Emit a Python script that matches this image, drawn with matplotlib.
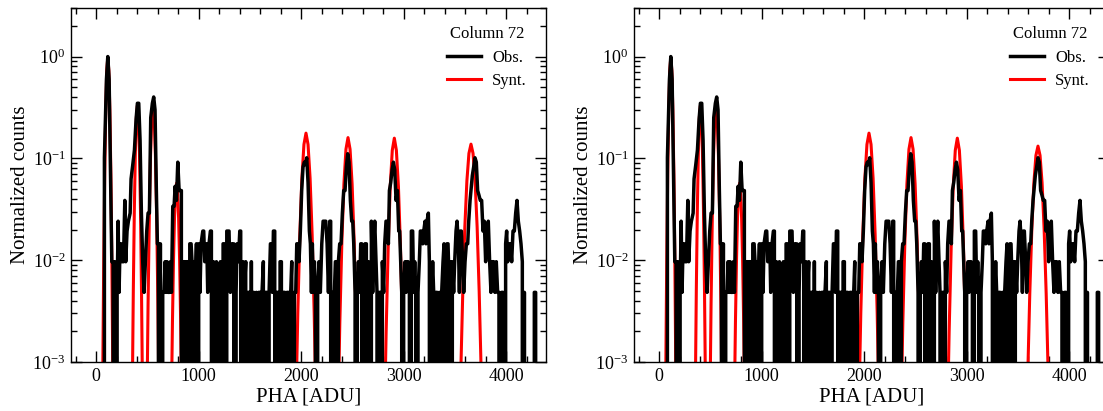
import numpy as np
import matplotlib
matplotlib.use('Agg')
import matplotlib.pyplot as plt
from matplotlib.ticker import MultipleLocator, LogLocator

plt.rcParams['font.family'] = 'Liberation Serif'
plt.rcParams['mathtext.fontset'] = 'custom'
plt.rcParams['mathtext.rm'] = 'Liberation Serif'
plt.rcParams['mathtext.it'] = 'Liberation Serif:italic'

# Observed spectrum (PHA in ADU, counts per bin); normalised by the peak count
obs_pha = [60, 81, 101, 114, 127, 140, 153, 166, 172, 182, 192, 205, 215, 224, 234, 244, 254, 267, 280, 289,
           302, 315, 332, 341, 358, 374, 390, 403, 416, 429, 442, 455, 468, 481, 494, 507, 520, 533, 549, 562,
           575, 588, 598, 608, 614, 627, 637, 650, 663, 673, 683, 693, 702, 715, 725, 735, 748, 761, 771, 784,
           797, 810, 823, 832, 842, 855, 865, 875, 884, 894, 904, 914, 927, 936, 946, 959, 969, 979, 992, 1001,
           1014, 1024, 1041, 1050, 1060, 1070, 1080, 1089, 1102, 1115, 1125, 1135, 1145, 1154, 1164, 1174, 1187, 1200, 1213, 1226,
           1239, 1252, 1262, 1275, 1288, 1297, 1310, 1323, 1333, 1343, 1353, 1366, 1375, 1388, 1402, 1411, 1421, 1434, 1447, 1460,
           1470, 1483, 1496, 1506, 1515, 1528, 1538, 1551, 1564, 1577, 1587, 1600, 1610, 1619, 1632, 1642, 1652, 1665, 1675, 1688,
           1701, 1710, 1720, 1730, 1743, 1753, 1762, 1775, 1785, 1795, 1808, 1818, 1828, 1841, 1850, 1863, 1876, 1886, 1899, 1909,
           1922, 1935, 1948, 1958, 1967, 1980, 1993, 2006, 2019, 2032, 2042, 2055, 2068, 2081, 2091, 2101, 2110, 2120, 2130, 2140,
           2149, 2162, 2175, 2188, 2202, 2215, 2228, 2241, 2254, 2267, 2280, 2289, 2299, 2312, 2325, 2335, 2345, 2354, 2364, 2377,
           2390, 2403, 2416, 2429, 2442, 2455, 2468, 2481, 2494, 2504, 2514, 2527, 2540, 2549, 2559, 2572, 2582, 2592, 2601, 2611,
           2624, 2637, 2647, 2657, 2667, 2676, 2686, 2699, 2709, 2719, 2732, 2741, 2751, 2764, 2774, 2784, 2793, 2806, 2816, 2829,
           2839, 2852, 2862, 2875, 2888, 2901, 2914, 2927, 2940, 2953, 2962, 2972, 2982, 2992, 3001, 3015, 3024, 3034, 3044, 3057,
           3067, 3076, 3089, 3099, 3109, 3119, 3132, 3141, 3154, 3164, 3177, 3187, 3197, 3210, 3219, 3229, 3242, 3252, 3262, 3275,
           3284, 3294, 3307, 3317, 3327, 3340, 3349, 3359, 3372, 3385, 3395, 3405, 3414, 3424, 3434, 3447, 3457, 3467, 3476, 3489,
           3499, 3512, 3522, 3535, 3545, 3554, 3564, 3577, 3587, 3600, 3613, 3626, 3636, 3649, 3658, 3671, 3684, 3697, 3710, 3723,
           3736, 3749, 3762, 3775, 3788, 3801, 3814, 3827, 3840, 3853, 3866, 3879, 3892, 3905, 3918, 3931, 3944, 3957, 3970, 3983,
           3996, 4006, 4016, 4029, 4042, 4055, 4068, 4081, 4094, 4107, 4120, 4133, 4146, 4159, 4169, 4179, 4192, 4270, 4276, 4289,
           4296]
obs_counts = [0, 21, 124, 207, 124, 17, 2, 2, 0, 2, 0, 1, 5, 1, 3, 3, 2, 2, 8, 2,
              4, 5, 6, 13, 18, 25, 50, 72, 72, 31, 6, 2, 1, 2, 4, 6, 6, 52, 72, 83,
              62, 10, 3, 3, 0, 3, 0, 1, 1, 2, 1, 2, 1, 1, 2, 1, 7, 7, 11, 8,
              19, 10, 10, 10, 0, 2, 2, 0, 2, 2, 0, 3, 3, 2, 0, 2, 1, 3, 0, 3,
              1, 3, 4, 4, 2, 3, 3, 1, 3, 4, 4, 0, 2, 1, 0, 2, 1, 0, 2, 0,
              3, 3, 0, 4, 4, 4, 1, 3, 2, 3, 0, 1, 3, 2, 4, 4, 0, 2, 1, 2,
              0, 1, 1, 0, 2, 0, 1, 0, 1, 0, 1, 1, 0, 1, 2, 0, 1, 1, 0, 1,
              3, 3, 1, 4, 4, 0, 1, 1, 0, 2, 2, 0, 1, 1, 0, 1, 1, 0, 1, 2,
              0, 1, 1, 3, 3, 2, 4, 10, 17, 19, 18, 21, 12, 4, 3, 1, 3, 1, 2, 1,
              0, 1, 2, 1, 3, 5, 5, 5, 3, 1, 5, 5, 0, 1, 1, 2, 2, 0, 2, 3,
              3, 6, 10, 10, 17, 23, 19, 8, 5, 5, 3, 1, 0, 1, 2, 1, 3, 3, 0, 1,
              3, 3, 0, 2, 1, 0, 5, 1, 3, 5, 2, 1, 0, 1, 1, 0, 2, 1, 3, 5,
              5, 3, 10, 12, 16, 19, 16, 8, 10, 4, 4, 2, 1, 0, 1, 2, 1, 2, 2, 1,
              0, 4, 4, 1, 2, 1, 0, 1, 2, 4, 4, 3, 4, 5, 3, 5, 6, 2, 0, 1,
              2, 1, 0, 1, 1, 0, 1, 0, 1, 2, 3, 1, 0, 3, 3, 1, 2, 0, 2, 1,
              2, 4, 5, 3, 1, 4, 4, 2, 1, 2, 3, 3, 5, 8, 10, 14, 17, 21, 19, 10,
              9, 8, 8, 4, 5, 2, 4, 5, 2, 1, 2, 2, 1, 2, 1, 1, 0, 1, 1, 0,
              3, 4, 2, 3, 3, 2, 4, 4, 6, 8, 5, 4, 3, 2, 0, 1, 0, 0, 1, 1,
              0]

# Synthetic spectrum, lines common to both panels
synt_pha = [64, 74, 84, 94, 104, 114, 124, 134, 144, 154, 164,
            353, 363, 373, 383, 393, 403, 413, 423, 433, 443, 453,
            495, 507, 519, 531, 543, 555, 567, 579, 591, 603, 615,
            735, 745, 755, 765, 775, 785, 795, 805, 815, 825, 835,
            1948, 1968, 1988, 2008, 2028, 2048, 2068, 2088, 2108, 2128, 2148,
            2358, 2378, 2398, 2418, 2438, 2458, 2478, 2498, 2518, 2538, 2558,
            2810, 2830, 2850, 2870, 2890, 2910, 2930, 2950, 2970, 2990, 3010]
synt_val = [0.00061, 0.0088, 0.0697, 0.30, 0.73, 0.98, 0.73, 0.30, 0.0697, 0.0088, 0.00061,
            0.00047, 0.0050, 0.0311, 0.1155, 0.254, 0.33, 0.254, 0.1155, 0.0311, 0.0050, 0.00047,
            0.00029, 0.0037, 0.0263, 0.107, 0.249, 0.33, 0.249, 0.107, 0.0263, 0.0037, 0.00029,
            0.00043, 0.0025, 0.0098, 0.0261, 0.0469, 0.057, 0.0469, 0.0261, 0.0098, 0.0025, 0.00043,
            0.0003, 0.0030, 0.0178, 0.0638, 0.137, 0.177, 0.137, 0.0638, 0.0178, 0.0030, 0.0003,
            0.00023, 0.0024, 0.0151, 0.056, 0.123, 0.16, 0.123, 0.056, 0.0151, 0.0024, 0.00023,
            0.00017, 0.00196, 0.0134, 0.0527, 0.120, 0.158, 0.120, 0.0527, 0.0134, 0.00196, 0.00017]

# Highest line differs between the two fits
left_pha8 = [3538, 3558, 3578, 3598, 3618, 3638, 3658, 3678, 3698, 3718, 3738, 3758, 3778]
left_val8 = [0.000077, 0.00076, 0.0049, 0.0212, 0.060, 0.112, 0.138, 0.112, 0.060, 0.0212, 0.0049, 0.00076, 0.000077]
right_pha8 = [3577, 3597, 3617, 3637, 3657, 3677, 3697, 3717, 3737, 3757, 3777, 3797, 3817]
right_val8 = [0.00007, 0.00073, 0.0047, 0.0203, 0.0574, 0.107, 0.132, 0.107, 0.0574, 0.0203, 0.0047, 0.00073, 0.00007]

obs_norm = np.array(obs_counts) / max(obs_counts)

fig = plt.figure(figsize=(11.03, 4.11), dpi=100)
W, H = 1103, 411
ax1 = fig.add_axes([71 / W, 49 / H, 475 / W, 354 / H])
ax2 = fig.add_axes([634 / W, 49 / H, 475 / W, 354 / H])

for ax, p8, v8 in [(ax1, left_pha8, left_val8), (ax2, right_pha8, right_val8)]:
    sx = synt_pha + p8
    sy = synt_val + v8
    l2, = ax.plot(sx, sy, color='red', lw=2.2, label='Synt.', zorder=2)
    l1, = ax.plot(obs_pha, obs_norm, color='black', lw=2.5, label='Obs.', zorder=3)
    ax.set_yscale('log')
    ax.set_ylim(1e-3, 3)
    ax.set_xlim(-245, 4390)
    ax.xaxis.set_major_locator(MultipleLocator(1000))
    ax.xaxis.set_minor_locator(MultipleLocator(200))
    ax.yaxis.set_major_locator(LogLocator(base=10))
    ax.yaxis.set_minor_locator(LogLocator(base=10, subs=np.arange(2, 10)))
    ax.tick_params(which='both', direction='in', top=True, right=True, labelsize=13, width=1)
    ax.tick_params(which='major', length=8, pad=4)
    ax.tick_params(which='minor', length=4.5)
    for s in ax.spines.values():
        s.set_linewidth(1.0)
    ax.set_xlabel('PHA [ADU]', fontsize=15, labelpad=2)
    ax.set_ylabel('Normalized counts', fontsize=15, labelpad=2)
    ax.legend([l1, l2], ['Obs.', 'Synt.'], title='Column 72', loc='upper right',
              bbox_to_anchor=(1 - 19 / 475, 1 - 18 / 354), frameon=False,
              borderpad=0, borderaxespad=0, fontsize=12, title_fontsize=12,
              handlelength=2.0, handletextpad=0.7, labelspacing=0.45)

fig.savefig('out.png', dpi=100)
